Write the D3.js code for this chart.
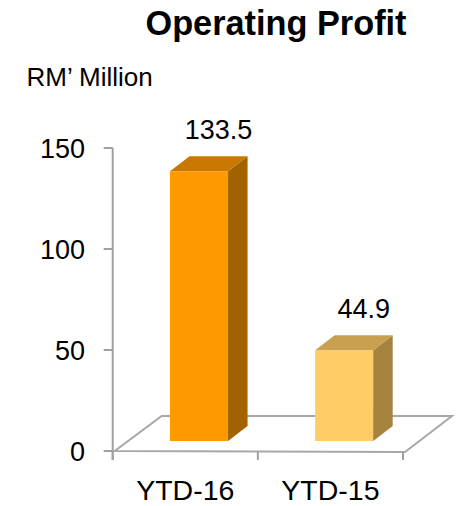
<!DOCTYPE html>
<html>
<head>
<meta charset="utf-8">
<script src="https://cdn.jsdelivr.net/npm/d3@7"></script>
<style>
  body { margin: 0; background: #fff; }
  text { font-family: Arial, "Liberation Sans", sans-serif; fill: #000; }
</style>
</head>
<body>
<div id="chart"></div>
<script>
const categories = ['YTD-16', 'YTD-15'];
const values = [133.5, 44.9];
const valueLabels = ['133.5', '44.9'];
const yTicks = [0, 50, 100, 150];

const colors = [
  { front: '#FF9900', side: '#A36200', top: '#C87800' },
  { front: '#FFCC66', side: '#A6843F', top: '#C9A050' }
];

const cfg = {
  width: 458,
  height: 506,
  left: 112.7,
  right: 403,
  top: 148,
  bottom: 451,
  floorDepth: { dx: 47, dy: -35 },
  barDepth: { dx: 19.5, dy: -15 },
  axisColor: '#A0A0A0'
};

const svg = d3.select('#chart')
  .append('svg')
  .attr('width', cfg.width)
  .attr('height', cfg.height);

const x = d3.scaleBand()
  .domain(categories)
  .range([cfg.left, cfg.right])
  .paddingInner(0.6)
  .paddingOuter(0.3);

const y = d3.scaleLinear()
  .domain([0, 150])
  .range([cfg.bottom, cfg.top]);

// bars sit in the middle of the floor depth
const inset = {
  dx: (cfg.floorDepth.dx - cfg.barDepth.dx) / 2,
  dy: (cfg.floorDepth.dy - cfg.barDepth.dy) / 2
};

// floor
const fd = cfg.floorDepth;
const f0 = y(0);
svg.append('path')
  .attr('d', `M${cfg.left + 2},${f0} L${cfg.right + 2},${f0 + 1} L${cfg.right + 2 + fd.dx},${f0 + fd.dy} L${cfg.left + 2 + fd.dx},${f0 + fd.dy} Z`)
  .attr('fill', '#fff')
  .attr('stroke', '#A8A8A8')
  .attr('stroke-width', 2);

// bars: front, side, top, then value label
const bd = cfg.barDepth;
const bars = svg.append('g').selectAll('g')
  .data(categories)
  .enter()
  .append('g');

bars.each(function (c, i) {
  const g = d3.select(this);
  const x0 = x(c) + inset.dx;
  const x1 = x0 + x.bandwidth();
  const yb = y(0) + inset.dy;
  const yt = y(values[i]) + inset.dy;
  g.append('rect')
    .attr('x', x0).attr('y', yt)
    .attr('width', x1 - x0).attr('height', yb - yt)
    .attr('fill', colors[i].front);
  g.append('path')
    .attr('d', `M${x1},${yt} L${x1 + bd.dx},${yt + bd.dy} L${x1 + bd.dx},${yb + bd.dy} L${x1},${yb} Z`)
    .attr('fill', colors[i].side);
  g.append('path')
    .attr('d', `M${x0},${yt} L${x1},${yt} L${x1 + bd.dx},${yt + bd.dy} L${x0 + bd.dx},${yt + bd.dy} Z`)
    .attr('fill', colors[i].top);
  g.append('text')
    .attr('x', (x0 + x1) / 2 + bd.dx)
    .attr('y', yt + bd.dy - 17)
    .attr('text-anchor', 'middle')
    .attr('font-size', 27)
    .text(valueLabels[i]);
});

// y axis
svg.append('line')
  .attr('x1', cfg.left).attr('x2', cfg.left)
  .attr('y1', cfg.top).attr('y2', cfg.bottom + 9)
  .attr('stroke', cfg.axisColor).attr('stroke-width', 2);

const yAxis = svg.append('g');
yAxis.selectAll('line')
  .data(yTicks)
  .enter()
  .append('line')
  .attr('x1', cfg.left - 9).attr('x2', cfg.left)
  .attr('y1', d => y(d)).attr('y2', d => y(d))
  .attr('stroke', cfg.axisColor).attr('stroke-width', 2);
yAxis.selectAll('text')
  .data(yTicks)
  .enter()
  .append('text')
  .attr('x', 85)
  .attr('y', d => y(d) + 9.5)
  .attr('text-anchor', 'end')
  .attr('font-size', 27)
  .text(d => d);

// x axis ticks at category boundaries
const boundaries = categories.map((c, i) => cfg.left + x.step() * (i + 1));
boundaries.unshift(cfg.left);
svg.append('g').selectAll('line')
  .data(boundaries)
  .enter()
  .append('line')
  .attr('x1', d => d).attr('x2', d => d)
  .attr('y1', cfg.bottom + 1).attr('y2', cfg.bottom + 9)
  .attr('stroke', cfg.axisColor).attr('stroke-width', 2);

svg.append('g').selectAll('text')
  .data(categories)
  .enter()
  .append('text')
  .attr('x', d => x(d) + x.bandwidth() / 2)
  .attr('y', 500)
  .attr('text-anchor', 'middle')
  .attr('font-size', 28.5)
  .text(d => d);

// titles
svg.append('text')
  .attr('x', 276)
  .attr('y', 35)
  .attr('text-anchor', 'middle')
  .attr('font-size', 34.3)
  .attr('font-weight', 'bold')
  .text('Operating Profit');

svg.append('text')
  .attr('x', 26.5)
  .attr('y', 86)
  .attr('font-size', 26)
  .text('RM’ Million');
</script>
</body>
</html>
